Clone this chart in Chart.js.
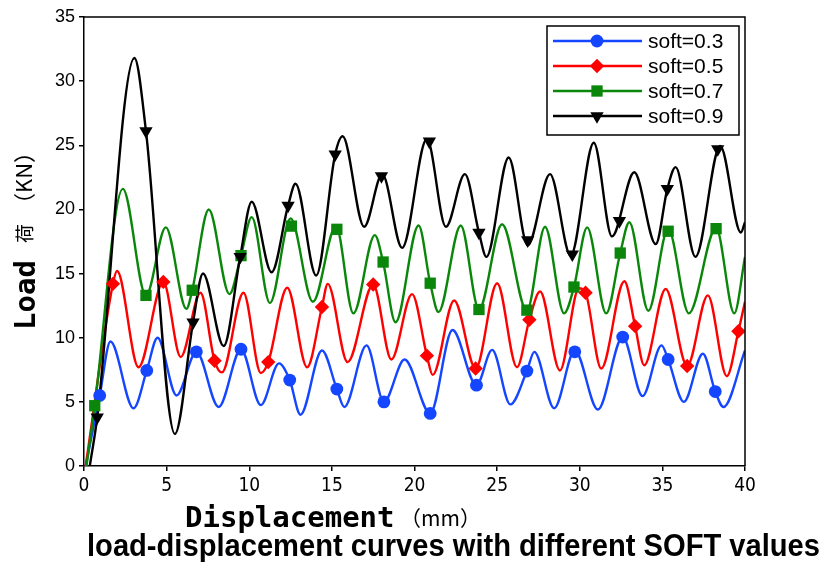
<!DOCTYPE html>
<html>
<head>
<meta charset="utf-8">
<script src="https://cdn.jsdelivr.net/npm/chart.js@4.4.1/dist/chart.umd.min.js"></script>
<style>
  html, body { margin: 0; padding: 0; background: #fff; overflow: hidden; }
  canvas { display: block; }
</style>
</head>
<body>
<canvas id="chart" width="825" height="562"></canvas>
<script>
// values: [displacement mm, load kN]
const blueCurve = [[0.1,0],[0.95,5.5],[1.6,9.7],[3.0,4.5],[3.8,7.45],[4.45,10.0],[5.6,5.5],[6.8,8.9],[8.15,4.6],[9.5,9.1],[10.7,4.75],[11.8,8.0],[12.45,6.7],[13.1,4.0],[14.4,9.0],[15.3,6.0],[15.75,4.6],[17.1,9.4],[18.15,5.0],[19.4,8.3],[20.95,4.1],[22.3,10.6],[23.75,6.3],[24.7,9.05],[25.8,4.8],[26.8,7.4],[27.25,8.9],[28.45,4.5],[29.7,9.0],[31.1,4.4],[32.6,10.05],[33.8,5.45],[34.95,9.4],[35.35,8.3],[36.3,5.0],[37.45,8.75],[38.2,5.8],[38.7,4.6],[40,9.0]];
const blueMarks = [[0.95,5.5],[3.8,7.45],[6.8,8.9],[9.5,9.1],[12.45,6.7],[15.3,6.0],[18.15,5.0],[20.95,4.1],[23.75,6.3],[26.8,7.4],[29.7,8.9],[32.6,10.05],[35.35,8.3],[38.2,5.8]];

const redCurve = [[0.1,0],[1.75,14.2],[2.0,15.2],[3.3,7.7],[4.8,14.35],[5.85,8.5],[7.05,13.5],[7.9,8.2],[8.35,7.3],[9.65,13.5],[10.7,7.25],[11.15,8.1],[12.3,13.9],[13.5,7.7],[14.4,12.4],[14.75,14.2],[15.95,8.1],[17.5,14.15],[18.6,8.3],[19.85,13.4],[20.75,8.6],[21.1,7.1],[22.4,12.9],[23.7,7.6],[25.0,14.25],[26.2,7.7],[26.95,11.4],[27.6,13.6],[28.8,7.45],[29.95,13.85],[30.35,13.5],[31.3,7.6],[32.7,14.4],[33.35,10.9],[33.9,7.85],[35.2,13.8],[36.5,7.8],[37.75,13.3],[38.9,7.0],[39.6,10.5],[40,12.8]];
const redMarks = [[1.75,14.2],[4.8,14.35],[7.9,8.2],[11.15,8.1],[14.4,12.4],[17.5,14.15],[20.75,8.6],[23.7,7.6],[26.95,11.4],[30.35,13.5],[33.35,10.9],[36.5,7.8],[39.6,10.5]];

const greenCurve = [[0.15,0],[0.65,4.7],[2.35,21.6],[3.75,13.3],[4.95,18.6],[6.2,12.25],[6.55,13.7],[7.55,20.0],[8.8,13.4],[9.5,16.4],[10.15,19.4],[11.25,12.7],[12.5,19.3],[13.85,12.8],[15.25,18.7],[16.3,11.9],[17.6,18.0],[18.1,15.9],[18.85,11.2],[20.25,18.75],[20.95,14.25],[21.45,12.0],[22.8,18.75],[23.9,12.2],[25.3,18.85],[26.8,12.1],[27.9,18.65],[29.05,11.9],[29.65,13.95],[30.45,18.6],[31.6,11.9],[32.45,16.6],[33.0,19.0],[34.15,12.1],[35.35,18.5],[36.6,11.9],[38.25,18.55],[39.35,11.9],[40,16.3]];
const greenMarks = [[0.65,4.7],[3.75,13.3],[6.55,13.7],[9.5,16.4],[12.55,18.7],[15.3,18.45],[18.1,15.9],[20.95,14.25],[23.9,12.2],[26.8,12.15],[29.65,13.95],[32.45,16.6],[35.35,18.3],[38.25,18.5]];

const blackCurve = [[0.35,0],[0.8,3.8],[3.05,31.8],[3.75,26.1],[5.5,2.5],[6.6,11.2],[7.2,15.0],[8.45,9.35],[9.45,16.3],[10.15,20.6],[11.35,15.1],[12.35,20.3],[12.8,22.0],[14.05,14.85],[15.2,24.3],[15.65,25.7],[16.95,18.65],[18.05,22.75],[19.25,17.0],[20.75,25.5],[21.9,18.65],[23.05,22.75],[23.9,18.2],[24.35,16.3],[25.7,24.05],[26.85,17.2],[28.2,22.75],[29.45,16.4],[30.85,25.2],[31.95,17.9],[33.3,22.9],[34.6,17.3],[35.3,21.6],[35.8,23.3],[37.0,16.3],[38.5,24.95],[39.75,18.2],[40,19.0]];
const blackMarks = [[0.8,3.8],[3.75,26.1],[6.6,11.2],[9.45,16.3],[12.35,20.3],[15.2,24.3],[18.0,22.6],[20.9,25.3],[23.9,18.2],[26.85,17.6],[29.55,16.5],[32.4,19.1],[35.3,21.6],[38.35,24.7]];

const seriesLabels = ['soft=0.3', 'soft=0.5', 'soft=0.7', 'soft=0.9'];
const xTitle = 'Displacement';
const xUnit = '（mm）';
const yTitle = 'Load';
const yChar = '荷';
const yUnit = '（KN）';
const chartTitle = 'load-displacement curves with different SOFT values';

const series = [
  { label: seriesLabels[0], curve: blueCurve, marks: blueMarks, color: '#1446ff', style: 'circle', r: 6.4, rot: 0 },
  { label: seriesLabels[1], curve: redCurve, marks: redMarks, color: '#ff0000', style: 'rectRot', r: 7.2, rot: 0 },
  { label: seriesLabels[2], curve: greenCurve, marks: greenMarks, color: '#0a870a', style: 'rect', r: 8, rot: 0 },
  { label: seriesLabels[3], curve: blackCurve, marks: blackMarks, color: '#000000', style: 'triangle', r: 7.7, rot: 180 }
];

const toPts = arr => arr.map(([x, y]) => ({ x, y }));

const datasets = [];
series.forEach((s, i) => {
  datasets.push({
    label: s.label,
    data: toPts(s.curve),
    borderColor: s.color,
    borderWidth: 2.4,
    pointRadius: 0,
    cubicInterpolationMode: 'monotone',
    fill: false,
    order: 10 - i
  });
  datasets.push({
    label: s.label + ' marks',
    data: toPts(s.marks),
    showLine: false,
    pointStyle: s.style,
    pointRadius: s.r,
    pointRotation: s.rot,
    backgroundColor: s.color,
    borderColor: s.color,
    borderWidth: 0,
    order: 5 - i
  });
});

// small marker painter for the legend box
function drawMark(ctx, s, x, y) {
  const r = s.r;
  ctx.fillStyle = s.color;
  ctx.beginPath();
  if (s.style === 'circle') {
    ctx.arc(x, y, r, 0, Math.PI * 2);
  } else if (s.style === 'rectRot') {
    ctx.moveTo(x - r, y); ctx.lineTo(x, y - r); ctx.lineTo(x + r, y); ctx.lineTo(x, y + r);
  } else if (s.style === 'rect') {
    const h = r * Math.SQRT1_2;
    ctx.rect(x - h, y - h, 2 * h, 2 * h);
  } else {
    let a = Math.PI;
    for (let k = 0; k < 3; k++) {
      const px = x + Math.sin(a) * r, py = y - Math.cos(a) * r;
      k ? ctx.lineTo(px, py) : ctx.moveTo(px, py);
      a += Math.PI * 2 / 3;
    }
  }
  ctx.closePath();
  ctx.fill();
}

const decor = {
  id: 'decor',
  afterDraw(chart) {
    const { ctx, chartArea: a } = chart;
    ctx.save();

    // top and right side of the plot frame
    ctx.strokeStyle = '#000';
    ctx.lineWidth = 1.5;
    ctx.beginPath();
    ctx.moveTo(a.left, a.top);
    ctx.lineTo(a.right, a.top);
    ctx.lineTo(a.right, a.bottom);
    ctx.stroke();

    // legend box
    ctx.fillStyle = '#fff';
    ctx.fillRect(547, 26, 192, 109);
    ctx.strokeRect(547, 26, 192, 109);
    ctx.font = '21px "Liberation Sans", Arial, sans-serif';
    ctx.textBaseline = 'middle';
    series.forEach((s, i) => {
      const y = 41 + i * 25;
      ctx.strokeStyle = s.color;
      ctx.lineWidth = 2.6;
      ctx.beginPath();
      ctx.moveTo(553, y);
      ctx.lineTo(642, y);
      ctx.stroke();
      drawMark(ctx, s, 597, y);
      ctx.fillStyle = '#000';
      ctx.fillText(s.label, 648, y + 1);
    });

    ctx.fillStyle = '#000';
    ctx.textBaseline = 'alphabetic';
    ctx.textAlign = 'left';

    // x axis title
    ctx.font = 'bold 29px "DejaVu Sans Mono", monospace';
    ctx.fillText(xTitle, 185, 527);
    ctx.font = '21px "Noto Sans CJK SC", sans-serif';
    ctx.fillText(xUnit, 400, 526);

    // y axis title, rotated
    ctx.save();
    ctx.translate(35, 330);
    ctx.rotate(-Math.PI / 2);
    ctx.font = 'bold 29px "DejaVu Sans Mono", monospace';
    ctx.fillText(yTitle, 0, 0);
    ctx.font = '19px "Noto Sans CJK SC", sans-serif';
    ctx.fillText(yChar, 87, -3);
    ctx.font = '22px "Noto Sans CJK SC", sans-serif';
    ctx.fillText(yUnit, 115, -3);
    ctx.restore();

    // caption under the chart
    ctx.font = 'bold 32px "Liberation Sans", Arial, sans-serif';
    const w = ctx.measureText(chartTitle).width;
    ctx.translate(87, 556);
    ctx.scale(733 / w, 1);
    ctx.fillText(chartTitle, 0, 0);

    ctx.restore();
  }
};

new Chart(document.getElementById('chart'), {
  type: 'line',
  data: { datasets },
  options: {
    responsive: false,
    animation: false,
    layout: { padding: { left: 0, top: 17, right: 80, bottom: 0 } },
    plugins: { legend: { display: false }, tooltip: { enabled: false }, title: { display: false } },
    scales: {
      x: {
        type: 'linear',
        min: 0, max: 40,
        afterFit: s => { s.height = 96; },
        ticks: { stepSize: 5, color: '#000', padding: 4, maxRotation: 0,
          font: { family: '"Liberation Sans Narrow", "DejaVu Sans Condensed", "Liberation Sans", Arial', size: 19 } },
        grid: { drawOnChartArea: false, tickLength: 5, color: '#000', lineWidth: 1.5 },
        border: { color: '#000', width: 1.5 }
      },
      y: {
        min: 0, max: 35,
        afterFit: s => { s.width = 84; },
        ticks: { stepSize: 5, color: '#000', padding: 4,
          font: { family: '"Liberation Sans", Arial', size: 18 } },
        grid: { drawOnChartArea: false, tickLength: 5, color: '#000', lineWidth: 1.5 },
        border: { color: '#000', width: 1.5 }
      }
    }
  },
  plugins: [decor]
});
</script>
</body>
</html>
